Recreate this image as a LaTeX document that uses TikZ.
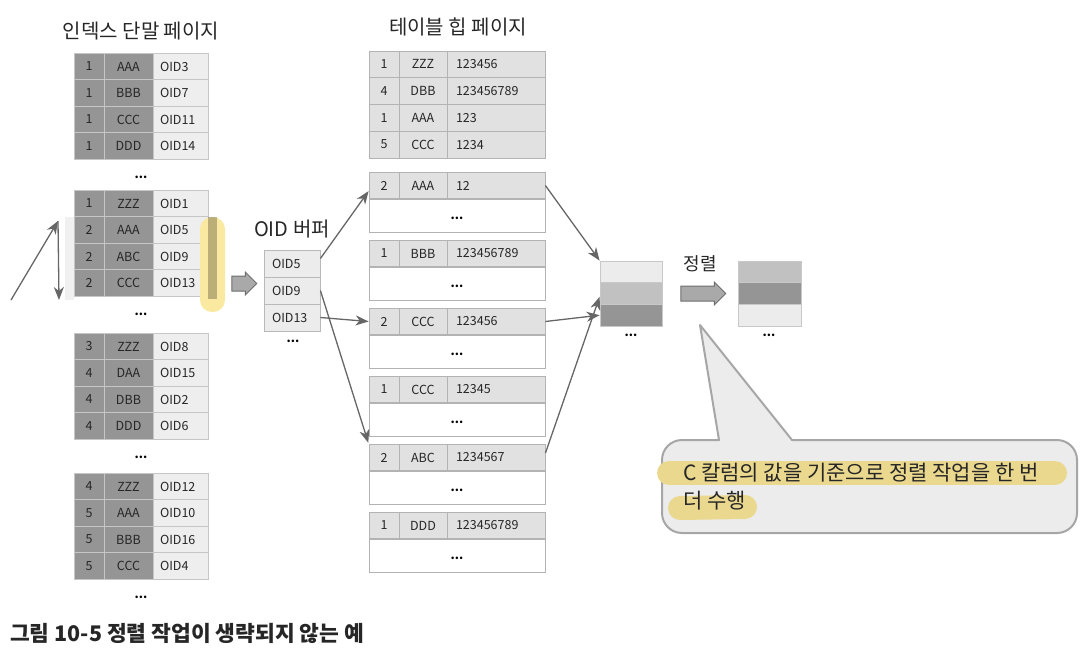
\documentclass[tikz,border=0pt]{standalone}
\usepackage{fontspec}
\setmainfont{Noto Sans CJK KR}
\usepackage{tikz}
\usetikzlibrary{arrows.meta,shapes.arrows}

\definecolor{idxdark}{HTML}{959595}
\definecolor{idxlight}{HTML}{EEEEEE}
\definecolor{idxline}{HTML}{C6C6C6}
\definecolor{heapfill}{HTML}{E1E1E1}
\definecolor{heapline}{HTML}{B3B3B3}
\definecolor{buffill}{HTML}{ECECEC}
\definecolor{bufline}{HTML}{B9B9B9}
\definecolor{sortlight}{HTML}{ECECEC}
\definecolor{sortmid}{HTML}{C1C1C1}
\definecolor{sortdark}{HTML}{959595}
\definecolor{sortline}{HTML}{C8C8C8}
\definecolor{arrowgray}{HTML}{666666}
\definecolor{blockfill}{HTML}{A9A9A9}
\definecolor{blockline}{HTML}{6E6E6E}
\definecolor{notefill}{HTML}{ECECEC}
\definecolor{noteline}{HTML}{A6A6A6}
\definecolor{hilite}{HTML}{EBD88F}
\definecolor{marker}{HTML}{FAE9A0}
\definecolor{stripgray}{HTML}{F0F0F0}
\definecolor{textdark}{HTML}{262626}

\tikzset{
  cell/.style={draw=idxline, line width=0.8pt, inner sep=0pt, minimum height=26.5pt, text=textdark, font=\fontsize{12.5pt}{14pt}\selectfont},
  idxnum/.style={cell, fill=idxdark, minimum width=30pt},
  idxkey/.style={cell, fill=idxdark, minimum width=49pt},
  idxoid/.style={cell, fill=idxlight, inner xsep=7pt, text width=41pt, align=left},
  heapnum/.style={cell, draw=heapline, fill=heapfill, minimum width=30pt, minimum height=26.75pt},
  heapkey/.style={cell, draw=heapline, fill=heapfill, minimum width=48pt, minimum height=26.75pt},
  heapval/.style={cell, draw=heapline, fill=heapfill, inner xsep=9pt, text width=80pt, align=left, minimum height=26.75pt},
  heaprest/.style={draw=heapline, line width=0.8pt, fill=white, minimum width=176pt, minimum height=33pt, inner sep=0pt, text height=8pt, text depth=0pt, font=\bfseries\fontsize{12pt}{14pt}\selectfont},
  bufcell/.style={cell, draw=bufline, fill=buffill, inner xsep=8pt, text width=40pt, align=left, minimum height=27pt},
  sortrow/.style={draw=sortline, line width=0.8pt, minimum width=62pt, minimum height=21.7pt, inner sep=0pt},
  more/.style={font=\bfseries\fontsize{12pt}{14pt}\selectfont, inner sep=0pt},
  heading/.style={font=\fontsize{20pt}{23pt}\selectfont, text=textdark, inner sep=0pt},
  flow/.style={draw=arrowgray, line width=1.3pt, -{Stealth[length=13pt,width=10pt,inset=4pt]}},
  bigarrow/.style={single arrow, draw=blockline, fill=blockfill, line width=1pt, inner xsep=0pt, inner ysep=7pt, single arrow head extend=4pt, single arrow head indent=0pt},
}

\begin{document}
\begin{tikzpicture}[x=1pt, y=-1pt]
\useasboundingbox (0,0) rectangle (1090,654);

\node [heading] (idxtitle) at (141,31) {인덱스 단말 페이지};
\node [heading] (heaptitle) at (458,27) {테이블 힙 페이지};
\node [heading] (buftitle) at (292,229) {OID 버퍼};

\fill [stripgray] (65,217) rectangle (74,300);

\node [idxnum] (I1a) at (89,66.5) {1};
\node [idxkey] (I1b) at (128.5,66.5) {AAA};
\node [idxoid] (I1c) at (180.5,66.5) {OID3};
\node [idxnum] (I2a) at (89,93) {1};
\node [idxkey] (I2b) at (128.5,93) {BBB};
\node [idxoid] (I2c) at (180.5,93) {OID7};
\node [idxnum] (I3a) at (89,119.5) {1};
\node [idxkey] (I3b) at (128.5,119.5) {CCC};
\node [idxoid] (I3c) at (180.5,119.5) {OID11};
\node [idxnum] (I4a) at (89,146) {1};
\node [idxkey] (I4b) at (128.5,146) {DDD};
\node [idxoid] (I4c) at (180.5,146) {OID14};
\node [more] (idxmore1) at (141,177) {...};

\node [idxnum] (I5a) at (89,203.5) {1};
\node [idxkey] (I5b) at (128.5,203.5) {ZZZ};
\node [idxoid] (I5c) at (180.5,203.5) {OID1};
\node [idxnum] (I6a) at (89,230) {2};
\node [idxkey] (I6b) at (128.5,230) {AAA};
\node [idxoid] (I6c) at (180.5,230) {OID5};
\node [idxnum] (I7a) at (89,256.5) {2};
\node [idxkey] (I7b) at (128.5,256.5) {ABC};
\node [idxoid] (I7c) at (180.5,256.5) {OID9};
\node [idxnum] (I8a) at (89,283) {2};
\node [idxkey] (I8b) at (128.5,283) {CCC};
\node [idxoid] (I8c) at (180.5,283) {OID13};
\node [more] (idxmore2) at (141,314) {...};

\node [idxnum] (I9a) at (89,346.5) {3};
\node [idxkey] (I9b) at (128.5,346.5) {ZZZ};
\node [idxoid] (I9c) at (180.5,346.5) {OID8};
\node [idxnum] (I10a) at (89,373) {4};
\node [idxkey] (I10b) at (128.5,373) {DAA};
\node [idxoid] (I10c) at (180.5,373) {OID15};
\node [idxnum] (I11a) at (89,399.5) {4};
\node [idxkey] (I11b) at (128.5,399.5) {DBB};
\node [idxoid] (I11c) at (180.5,399.5) {OID2};
\node [idxnum] (I12a) at (89,426) {4};
\node [idxkey] (I12b) at (128.5,426) {DDD};
\node [idxoid] (I12c) at (180.5,426) {OID6};
\node [more] (idxmore3) at (141,457) {...};

\node [idxnum] (I13a) at (89,486.5) {4};
\node [idxkey] (I13b) at (128.5,486.5) {ZZZ};
\node [idxoid] (I13c) at (180.5,486.5) {OID12};
\node [idxnum] (I14a) at (89,513) {5};
\node [idxkey] (I14b) at (128.5,513) {AAA};
\node [idxoid] (I14c) at (180.5,513) {OID10};
\node [idxnum] (I15a) at (89,539.5) {5};
\node [idxkey] (I15b) at (128.5,539.5) {BBB};
\node [idxoid] (I15c) at (180.5,539.5) {OID16};
\node [idxnum] (I16a) at (89,566) {5};
\node [idxkey] (I16b) at (128.5,566) {CCC};
\node [idxoid] (I16c) at (180.5,566) {OID4};
\node [more] (idxmore4) at (141,597) {...};

\fill [marker, rounded corners=12pt] (200,217) rectangle (225,312);
\fill [black, opacity=0.25] (208,217) rectangle (217,299);

\coordinate (scanfrom) at (11,300);
\coordinate (scantop) at (58,221);
\coordinate (scanend) at (59,300);
\draw [flow] (scanfrom) -- (scantop);
\draw [flow] (scantop) -- (scanend);

\node [bigarrow, minimum height=25pt] (pass) at (240.5,283.5) {};

\node [bufcell] (B5) at (292,263.5) {OID5};
\node [bufcell] (B9) at (292,290.5) {OID9};
\node [bufcell] (B13) at (292,317.5) {OID13};
\node [more] (bufmore) at (293,341) {...};

\node [heapnum] (H1a) at (384,64.4) {1};
\node [heapkey] (H1b) at (423,64.4) {ZZZ};
\node [heapval] (H1c) at (496,64.4) {123456};
\node [heapnum] (H2a) at (384,91.1) {4};
\node [heapkey] (H2b) at (423,91.1) {DBB};
\node [heapval] (H2c) at (496,91.1) {123456789};
\node [heapnum] (H3a) at (384,117.9) {1};
\node [heapkey] (H3b) at (423,117.9) {AAA};
\node [heapval] (H3c) at (496,117.9) {123};
\node [heapnum] (H4a) at (384,144.6) {5};
\node [heapkey] (H4b) at (423,144.6) {CCC};
\node [heapval] (H4c) at (496,144.6) {1234};

\node [heapnum] (P1a) at (384,185.5) {2};
\node [heapkey] (P1b) at (423,185.5) {AAA};
\node [heapval] (P1c) at (496,185.5) {12};
\node [heaprest] (P1w) at (457,215.5) {...};
\node [heapnum] (P2a) at (384,253.5) {1};
\node [heapkey] (P2b) at (423,253.5) {BBB};
\node [heapval] (P2c) at (496,253.5) {123456789};
\node [heaprest] (P2w) at (457,283.5) {...};
\node [heapnum] (P3a) at (384,321.5) {2};
\node [heapkey] (P3b) at (423,321.5) {CCC};
\node [heapval] (P3c) at (496,321.5) {123456};
\node [heaprest] (P3w) at (457,351.5) {...};
\node [heapnum] (P4a) at (384,389.5) {1};
\node [heapkey] (P4b) at (423,389.5) {CCC};
\node [heapval] (P4c) at (496,389.5) {12345};
\node [heaprest] (P4w) at (457,419.5) {...};
\node [heapnum] (P5a) at (384,457.5) {2};
\node [heapkey] (P5b) at (423,457.5) {ABC};
\node [heapval] (P5c) at (496,457.5) {1234567};
\node [heaprest] (P5w) at (457,487.5) {...};
\node [heapnum] (P6a) at (384,525.5) {1};
\node [heapkey] (P6b) at (423,525.5) {DDD};
\node [heapval] (P6c) at (496,525.5) {123456789};
\node [heaprest] (P6w) at (457,555.5) {...};

\node [sortrow, fill=sortlight] (SA1) at (631,271.8) {};
\node [sortrow, fill=sortmid] (SA2) at (631,293.5) {};
\node [sortrow, fill=sortdark] (SA3) at (631,315.2) {};
\node [more] (sortmoreA) at (631,335) {...};

\node [heading, font=\fontsize{18pt}{20pt}\selectfont] (sortlabel) at (700,264) {정렬};
\node [bigarrow, minimum height=45pt] (sorting) at (699.5,293.5) {};

\node [sortrow, fill=sortmid, minimum width=63pt] (SB1) at (769.5,271.8) {};
\node [sortrow, fill=sortdark, minimum width=63pt] (SB2) at (769.5,293.5) {};
\node [sortrow, fill=sortlight, minimum width=63pt] (SB3) at (769.5,315.2) {};
\node [more] (sortmoreB) at (769,335) {...};

\draw [flow] (B5.10) -- (P1a.200);
\draw [flow] (B13.east) -- (P3a.west);
\draw [flow, shorten >=1pt] (B9.east) -- (P5a.north west);
\draw [flow] (P1c.east) -- (SA1.north west);
\draw [flow] (P3c.east) -- (SA3.west);
\draw [flow] (P5c.5) -- (SA2.186);

\filldraw [fill=notefill, draw=noteline, line width=2pt, line join=round] (900,533) [rounded corners=20pt] -- (1077,533) -- (1077,440) [sharp corners] -- (792,440) -- (700,325) -- (719,440) [rounded corners=20pt] -- (662,440) -- (662,533) -- cycle;
\draw [hilite, line width=24pt, line cap=round] (669,473) -- (1055,473);
\draw [hilite, line width=24pt, line cap=round] (680,508) -- (745,507);
\node [anchor=north west, inner sep=0pt, align=left, text=textdark, font=\fontsize{21pt}{28pt}\selectfont] (note) at (683,463) {C 칼럼의 값을 기준으로 정렬 작업을 한 번\\더 수행};

\node [anchor=base west, inner sep=0pt, text=textdark, font=\bfseries\fontsize{21.5pt}{25pt}\selectfont] (caption) at (10,641) {그림 10-5 정렬 작업이 생략되지 않는 예};
\end{tikzpicture}
\end{document}
